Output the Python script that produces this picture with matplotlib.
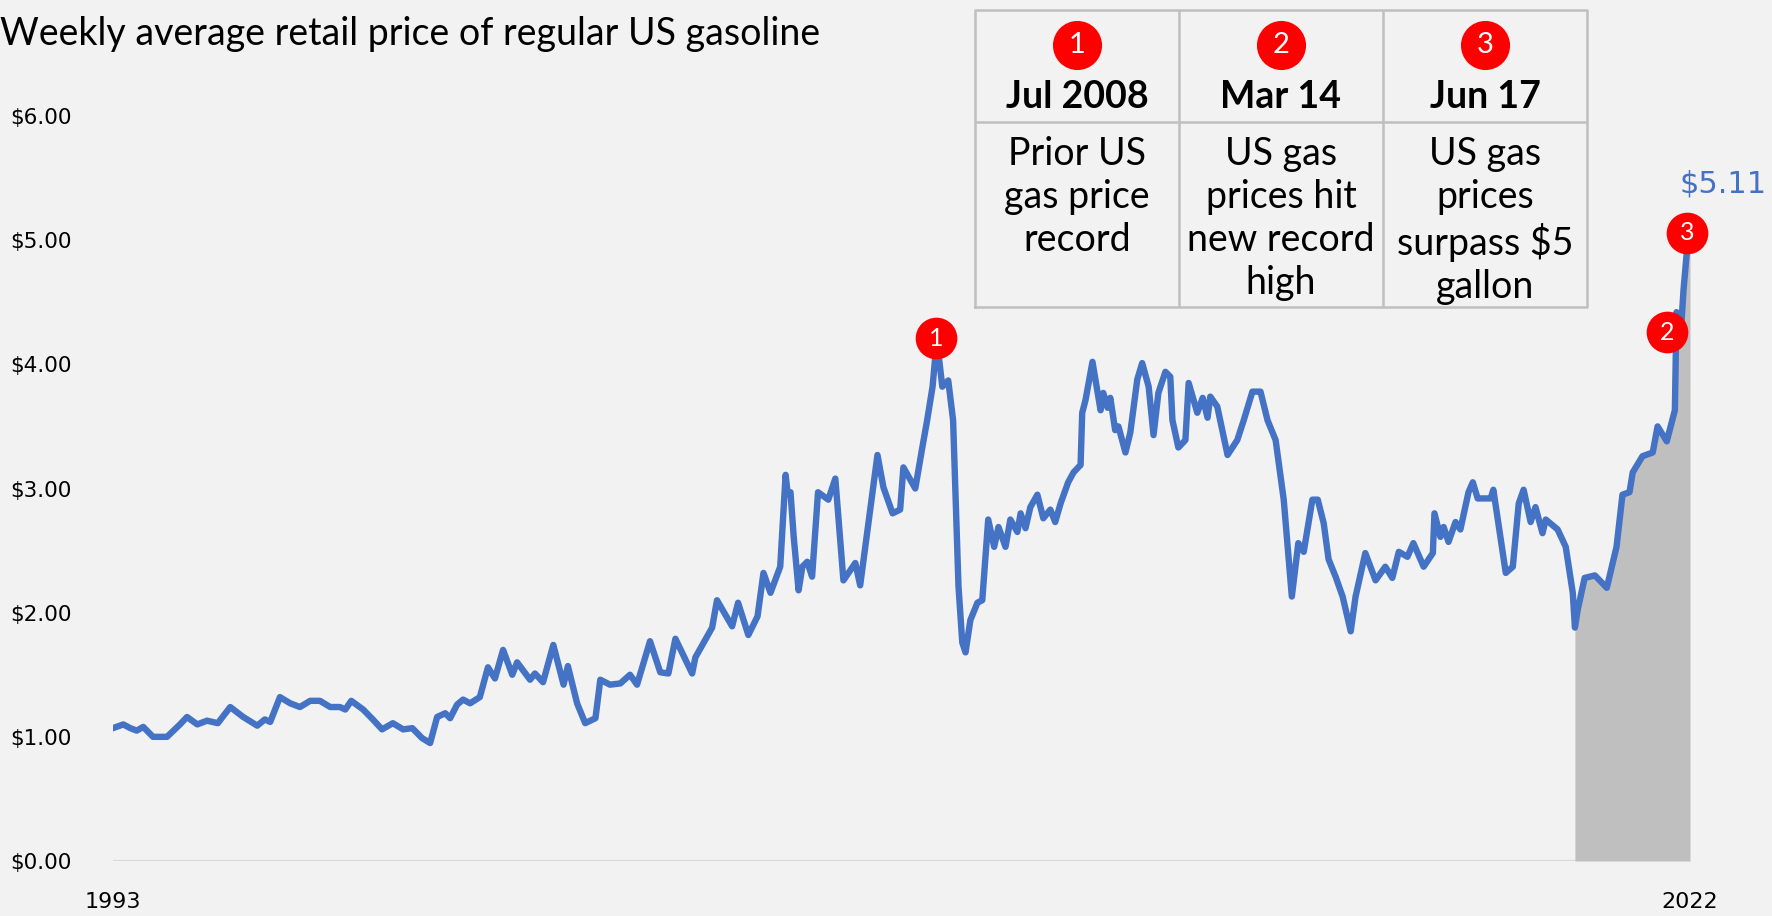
import matplotlib.pyplot as plt

TITLE = 'Weekly average retail price of regular US gasoline'

# weekly price line (decimal year, $/gal)
DATES = [
    1993.26, 1993.45, 1993.58, 1993.70, 1993.82, 1994.00, 1994.26, 1994.50, 1994.63, 1994.82,
    1995.00, 1995.20, 1995.43, 1995.67, 1995.93, 1996.07, 1996.17, 1996.35, 1996.54, 1996.72,
    1996.91, 1997.09, 1997.28, 1997.46, 1997.56, 1997.67, 1997.89, 1998.07, 1998.24, 1998.44,
    1998.63, 1998.80, 1998.98, 1999.13, 1999.26, 1999.41, 1999.50, 1999.63, 1999.74, 1999.87,
    2000.05, 2000.20, 2000.33, 2000.48, 2000.65, 2000.74, 2000.98, 2001.07, 2001.22, 2001.41,
    2001.60, 2001.68, 2001.85, 2002.00, 2002.19, 2002.28, 2002.46, 2002.65, 2002.83, 2002.96,
    2003.20, 2003.39, 2003.54, 2003.67, 2003.98, 2004.04, 2004.35, 2004.44, 2004.72, 2004.83,
    2005.02, 2005.19, 2005.30, 2005.43, 2005.61, 2005.71, 2005.75, 2005.80, 2005.86, 2005.95,
    2006.02, 2006.11, 2006.20, 2006.31, 2006.50, 2006.63, 2006.78, 2007.00, 2007.09, 2007.24,
    2007.41, 2007.52, 2007.69, 2007.83, 2007.89, 2008.02, 2008.11, 2008.24, 2008.33, 2008.43,
    2008.48, 2008.52, 2008.61, 2008.72, 2008.81, 2008.85, 2008.91, 2008.98, 2009.04, 2009.13,
    2009.26, 2009.35, 2009.46, 2009.57, 2009.65, 2009.78, 2009.87, 2010.00, 2010.06, 2010.15,
    2010.24, 2010.37, 2010.48, 2010.61, 2010.70, 2010.80, 2010.94, 2011.04, 2011.17, 2011.20,
    2011.26, 2011.39, 2011.54, 2011.59, 2011.67, 2011.72, 2011.81, 2011.87, 2012.00, 2012.09,
    2012.22, 2012.31, 2012.43, 2012.52, 2012.61, 2012.74, 2012.83, 2012.87, 2012.98, 2013.11,
    2013.17, 2013.33, 2013.43, 2013.52, 2013.57, 2013.70, 2013.89, 2014.07, 2014.19, 2014.35,
    2014.50, 2014.63, 2014.78, 2014.93, 2015.08, 2015.20, 2015.30, 2015.46, 2015.56, 2015.67,
    2015.76, 2015.89, 2016.02, 2016.17, 2016.26, 2016.44, 2016.63, 2016.81, 2016.94, 2017.06,
    2017.22, 2017.33, 2017.52, 2017.69, 2017.72, 2017.83, 2017.89, 2017.98, 2018.11, 2018.20,
    2018.35, 2018.43, 2018.52, 2018.76, 2018.81, 2018.94, 2019.04, 2019.17, 2019.28, 2019.37,
    2019.50, 2019.59, 2019.72, 2019.78, 2020.00, 2020.15, 2020.28, 2020.32, 2020.37, 2020.50,
    2020.69, 2020.91, 2021.09, 2021.20, 2021.33, 2021.39, 2021.57, 2021.76, 2021.85, 2022.02,
    2022.17, 2022.20, 2022.28, 2022.33, 2022.39, 2022.45,
]
PRICES = [
    1.07, 1.10, 1.07, 1.05, 1.08, 1.00, 1.00, 1.10, 1.16, 1.10,
    1.13, 1.11, 1.24, 1.16, 1.09, 1.14, 1.12, 1.32, 1.27, 1.24,
    1.29, 1.29, 1.24, 1.24, 1.22, 1.29, 1.22, 1.14, 1.06, 1.11,
    1.06, 1.07, 0.99, 0.95, 1.16, 1.19, 1.15, 1.26, 1.30, 1.27,
    1.32, 1.56, 1.47, 1.70, 1.50, 1.60, 1.46, 1.51, 1.44, 1.74,
    1.42, 1.57, 1.27, 1.11, 1.15, 1.46, 1.42, 1.43, 1.50, 1.42,
    1.77, 1.52, 1.51, 1.79, 1.51, 1.64, 1.88, 2.10, 1.89, 2.08,
    1.82, 1.97, 2.32, 2.16, 2.37, 3.11, 2.95, 2.97, 2.61, 2.18,
    2.37, 2.41, 2.29, 2.97, 2.91, 3.08, 2.26, 2.40, 2.22, 2.71,
    3.27, 3.01, 2.80, 2.83, 3.17, 3.07, 3.00, 3.33, 3.55, 3.82,
    4.06, 4.16, 3.82, 3.87, 3.55, 3.01, 2.21, 1.76, 1.68, 1.94,
    2.08, 2.10, 2.75, 2.53, 2.69, 2.53, 2.75, 2.65, 2.80, 2.68,
    2.85, 2.95, 2.76, 2.83, 2.73, 2.88, 3.05, 3.13, 3.19, 3.61,
    3.71, 4.02, 3.63, 3.77, 3.65, 3.73, 3.47, 3.50, 3.29, 3.45,
    3.88, 4.01, 3.82, 3.43, 3.77, 3.94, 3.90, 3.55, 3.33, 3.39,
    3.85, 3.61, 3.73, 3.57, 3.74, 3.66, 3.27, 3.39, 3.55, 3.78,
    3.78, 3.55, 3.39, 2.91, 2.13, 2.56, 2.49, 2.91, 2.91, 2.72,
    2.43, 2.29, 2.13, 1.85, 2.13, 2.48, 2.26, 2.37, 2.28, 2.49,
    2.45, 2.56, 2.37, 2.48, 2.80, 2.61, 2.69, 2.57, 2.73, 2.67,
    2.97, 3.05, 2.92, 2.92, 2.99, 2.61, 2.32, 2.37, 2.88, 2.99,
    2.73, 2.85, 2.64, 2.75, 2.67, 2.53, 2.16, 1.88, 2.02, 2.28,
    2.30, 2.20, 2.53, 2.95, 2.97, 3.13, 3.26, 3.29, 3.50, 3.38,
    3.63, 4.42, 4.25, 4.60, 4.90, 5.07,
]
FILL_START = 2020.32  # covid low, shaded to the end
LAST_LABEL = '$5.11'

Y_TICKS = [0, 1, 2, 3, 4, 5, 6]
X_LABELS = ['1993', '2022']

# numbered callouts on the line
CALLOUT_NUMS = ['1', '2', '3']
CALLOUT_X = [2008.50, 2022.02, 2022.39]
CALLOUT_Y = [4.21, 4.26, 5.06]

EVENT_DATES = ['Jul 2008', 'Mar 14', 'Jun 17']
EVENT_TEXT = [
    'Prior US\ngas price\nrecord',
    'US gas\nprices hit\nnew record\nhigh',
    'US gas\nprices\nsurpass $5\ngallon',
]

BG = '#F2F2F2'
BLUE = '#4472C4'
RED = '#FF0000'
GRID = '#BFBFBF'

W, H = 1772, 916
fig = plt.figure(figsize=(W / 100, H / 100), dpi=100, facecolor=BG)
ax = fig.add_axes([113 / W, 55 / H, (1690 - 113) / W, (861 - 116) / H])
ax.set_facecolor(BG)
ax.set_xlim(DATES[0], DATES[-1])
ax.set_ylim(0, 6)
for s in ax.spines.values():
    s.set_visible(False)

ax.axhline(0, color='#D9D9D9', lw=1.6, zorder=0)

mask = [d >= FILL_START for d in DATES]
ax.fill_between(DATES, PRICES, 0, where=mask, color='#BFBFBF', lw=0, zorder=1)
ax.plot(DATES, PRICES, color=BLUE, lw=4.6, solid_joinstyle='round', zorder=3)

ax.scatter(CALLOUT_X, CALLOUT_Y, s=900, color=RED, zorder=5, clip_on=False, lw=0)
for n, x, y in zip(CALLOUT_NUMS, CALLOUT_X, CALLOUT_Y):
    ax.text(x, y, n, color='white', fontsize=18, ha='center', va='center',
            family='Lato', zorder=6)

ax.annotate(LAST_LABEL, (DATES[-1], PRICES[-1]), xytext=(33, 47),
            textcoords='offset pixels', color=BLUE, fontsize=22,
            ha='center', va='center', annotation_clip=False)

ax.set_yticks(Y_TICKS)
ax.set_yticklabels([f'${v:.2f}' for v in Y_TICKS], fontsize=15.5)
ax.tick_params(axis='y', length=0, pad=30)
ax.set_xticks([])
ax.text(0, -0.055, X_LABELS[0], transform=ax.transAxes, fontsize=16,
        ha='center', va='center')
ax.text(1, -0.055, X_LABELS[1], transform=ax.transAxes, fontsize=16,
        ha='center', va='center')

fig.text(0.0, 1 - 34 / H, TITLE, fontsize=27, family='Lato', va='center')

# event table
tab = fig.add_axes([975 / W, (H - 307) / H, (1587 - 975) / W, (307 - 10) / H])
tab.set_xlim(0, 3)
tab.set_ylim(0, 1)
tab.axis('off')
tab.patch.set_visible(False)
row_y = 0.623
tab.plot([0, 3, 3, 0, 0], [0, 0, 1, 1, 0], color=GRID, lw=1.8, clip_on=False)
tab.plot([0, 3], [row_y, row_y], color=GRID, lw=1.8)
for c in (1, 2):
    tab.plot([c, c], [0, 1], color=GRID, lw=1.8)

cols = [i + 0.5 for i in range(3)]
tab.scatter(cols, [0.882] * 3, s=1250, color=RED, lw=0, zorder=3)
for x, n, d, t in zip(cols, CALLOUT_NUMS, EVENT_DATES, EVENT_TEXT):
    tab.text(x, 0.882, n, color='white', fontsize=21, ha='center', va='center',
             family='Lato', zorder=4)
    tab.text(x, 0.706, d, fontsize=27, fontweight='bold', ha='center',
             va='center', family='Lato')
    tab.text(x, 0.575, t, fontsize=27, ha='center', va='top', family='Lato',
             linespacing=1.24)

fig.savefig('out.png', dpi=100, facecolor=BG)
